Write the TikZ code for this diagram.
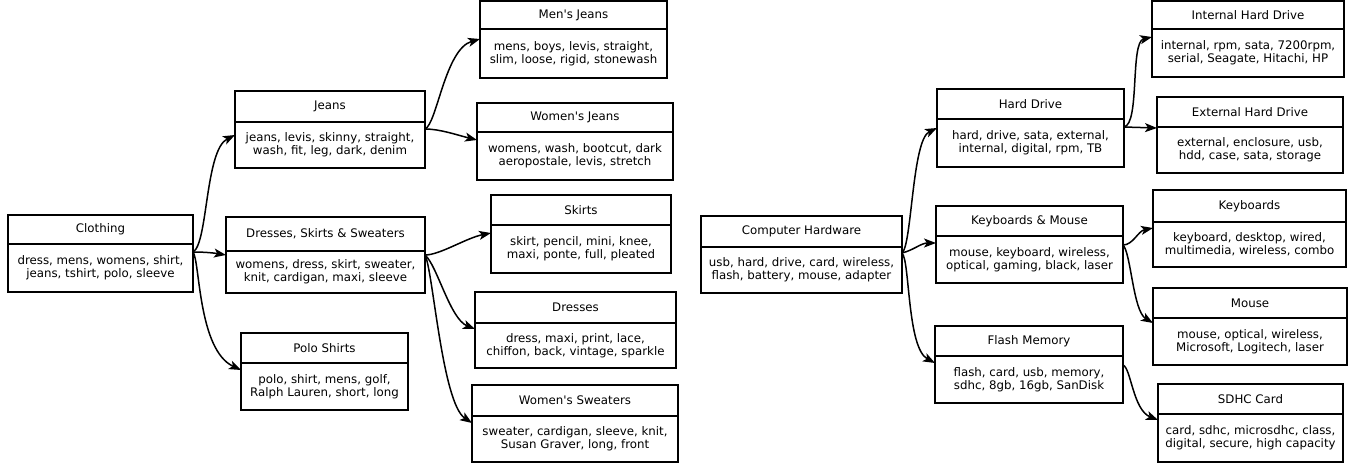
\documentclass[tikz,border=0pt]{standalone}
\usepackage{fontspec}
\setmainfont{DejaVu Sans}[Ligatures=TeXOff]
\usetikzlibrary{arrows.meta,calc}
\tikzset{
  hd/.style={draw, line width=1.6pt, inner sep=0pt, outer sep=0pt, align=center,
    font=\fontsize{11.8}{13.2}\selectfont},
  bd/.style={draw, line width=1.6pt, inner sep=0pt, outer sep=0pt, align=center,
    font=\fontsize{11.8}{13.2}\selectfont},
  edge/.style={line width=1.5pt, -{Stealth[length=12pt,width=9pt,inset=3pt]}},
}
\newcommand\recbox[8]{%
  \node[hd, minimum width={(#4-#2)*1pt}, minimum height={(#5-#3)*1pt}, anchor=north west] (#1h) at (#2,#3) {#7};
  \node[bd, minimum width={(#4-#2)*1pt}, minimum height={(#6-#5)*1pt}, anchor=north west] (#1) at (#2,#5) {#8};
}
\begin{document}
\begin{tikzpicture}[x=1pt,y=-1pt]
\useasboundingbox (0,0) rectangle (1353,466);
% left tree
\recbox{clothing}{8}{215}{193}{244}{292}{Clothing}{dress, mens, womens, shirt,\\jeans, tshirt, polo, sleeve}
\recbox{jeans}{235}{91}{425}{122}{168}{Jeans}{jeans, levis, skinny, straight,\\wash, fit, leg, dark, denim}
\recbox{dss}{226}{217}{425}{251}{293}{Dresses, Skirts \& Sweaters}{womens, dress, skirt, sweater,\\knit, cardigan, maxi, sleeve}
\recbox{polo}{241}{333}{408}{363}{410}{Polo Shirts}{polo, shirt, mens, golf,\\Ralph Lauren, short, long}
\recbox{menj}{480}{1}{667}{29}{78}{Men's Jeans}{mens, boys, levis, straight,\\slim, loose, rigid, stonewash}
\recbox{womj}{477}{103}{673}{132}{180}{Women's Jeans}{womens, wash, bootcut, dark\\aeropostale, levis, stretch}
\recbox{skirts}{491}{195}{671}{225}{273}{Skirts}{skirt, pencil, mini, knee,\\maxi, ponte, full, pleated}
\recbox{dresses}{475}{292}{676}{323}{368}{Dresses}{dress, maxi, print, lace,\\chiffon, back, vintage, sparkle}
\recbox{sweat}{472}{385}{678}{416}{462}{Women's Sweaters}{sweater, cardigan, sleeve, knit,\\Susan Graver, long, front}
% right tree
\recbox{ch}{701}{216}{902}{247}{293}{Computer Hardware}{usb, hard, drive, card, wireless,\\flash, battery, mouse, adapter}
\recbox{hdd}{937}{89}{1124}{119}{167}{Hard Drive}{hard, drive, sata, external,\\internal, digital, rpm, TB}
\recbox{km}{936}{206}{1123}{236}{283}{Keyboards \& Mouse}{mouse, keyboard, wireless,\\optical, gaming, black, laser}
\recbox{flash}{935}{326}{1123}{356}{403}{Flash Memory}{flash, card, usb, memory,\\sdhc, 8gb, 16gb, SanDisk}
\recbox{ihd}{1152}{1}{1344}{29}{77}{Internal Hard Drive}{internal, rpm, sata, 7200rpm,\\serial, Seagate, Hitachi, HP}
\recbox{ehd}{1157}{97}{1343}{127}{173}{External Hard Drive}{external, enclosure, usb,\\hdd, case, sata, storage}
\recbox{kb}{1153}{190}{1346}{222}{267}{Keyboards}{keyboard, desktop, wired,\\multimedia, wireless, combo}
\recbox{mouse}{1153}{288}{1347}{318}{365}{Mouse}{mouse, optical, wireless,\\Microsoft, Logitech, laser}
\recbox{sdhc}{1158}{384}{1343}{414}{462}{SDHC Card}{card, sdhc, microsdhc, class,\\digital, secure, high capacity}
% edges left
\draw[edge] ($(clothing.north east)+(0,8)$) .. controls +(15,-8) and +(-30,15) .. ($(jeans.north west)+(0,13)$);
\draw[edge] ($(clothing.north east)+(0,8)$) .. controls +(12,0) and +(-12,-2) .. ($(dss.north west)+(0,4)$);
\draw[edge] ($(clothing.north east)+(0,8)$) .. controls +(7,9) and +(-43,-20) .. ($(polo.north west)+(0,7)$);
\draw[edge] ($(jeans.north east)+(0,7)$) .. controls +(12,-5) and +(-35,10) .. ($(menj.north west)+(0,10)$);
\draw[edge] ($(jeans.north east)+(0,7)$) .. controls +(15,0) and +(-20,-5) .. ($(womj.north west)+(0,8)$);
\draw[edge] ($(dss.north east)+(0,4)$) .. controls +(15,0) and +(-25,5) .. ($(skirts.north west)+(0,8)$);
\draw[edge] ($(dss.north east)+(0,4)$) .. controls +(12,10) and +(-25,-10) .. ($(dresses.north west)+(0,6)$);
\draw[edge] ($(dss.north east)+(0,4)$) .. controls +(8,15) and +(-30,-20) .. ($(sweat.north west)+(0,7)$);
% edges right
\draw[edge] ($(ch.north east)+(0,6)$) .. controls +(10,-8) and +(-25,12) .. ($(hdd.north west)+(0,9)$);
\draw[edge] ($(ch.north east)+(0,6)$) .. controls +(12,-3) and +(-15,0) .. ($(km.north west)+(0,7)$);
\draw[edge] ($(ch.north east)+(0,6)$) .. controls +(8,8) and +(-28,-15) .. ($(flash.north west)+(0,7)$);
\draw[edge] ($(hdd.north east)+(0,8)$) .. controls +(16,-3) and +(-22,5) .. ($(ihd.north west)+(0,8)$);
\draw[edge] ($(hdd.north east)+(0,8)$) -- ($(ehd.north west)+(0,1)$);
\draw[edge] ($(km.north east)+(0,9)$) .. controls +(10,0) and +(-15,3) .. ($(kb.north west)+(0,6)$);
\draw[edge] ($(km.north east)+(0,9)$) .. controls +(8,8) and +(-20,-12) .. ($(mouse.north west)+(0,5)$);
\draw[edge] ($(flash.north east)+(0,9)$) .. controls +(8,3) and +(-25,-10) .. ($(sdhc.north west)+(0,6)$);
\end{tikzpicture}
\end{document}
